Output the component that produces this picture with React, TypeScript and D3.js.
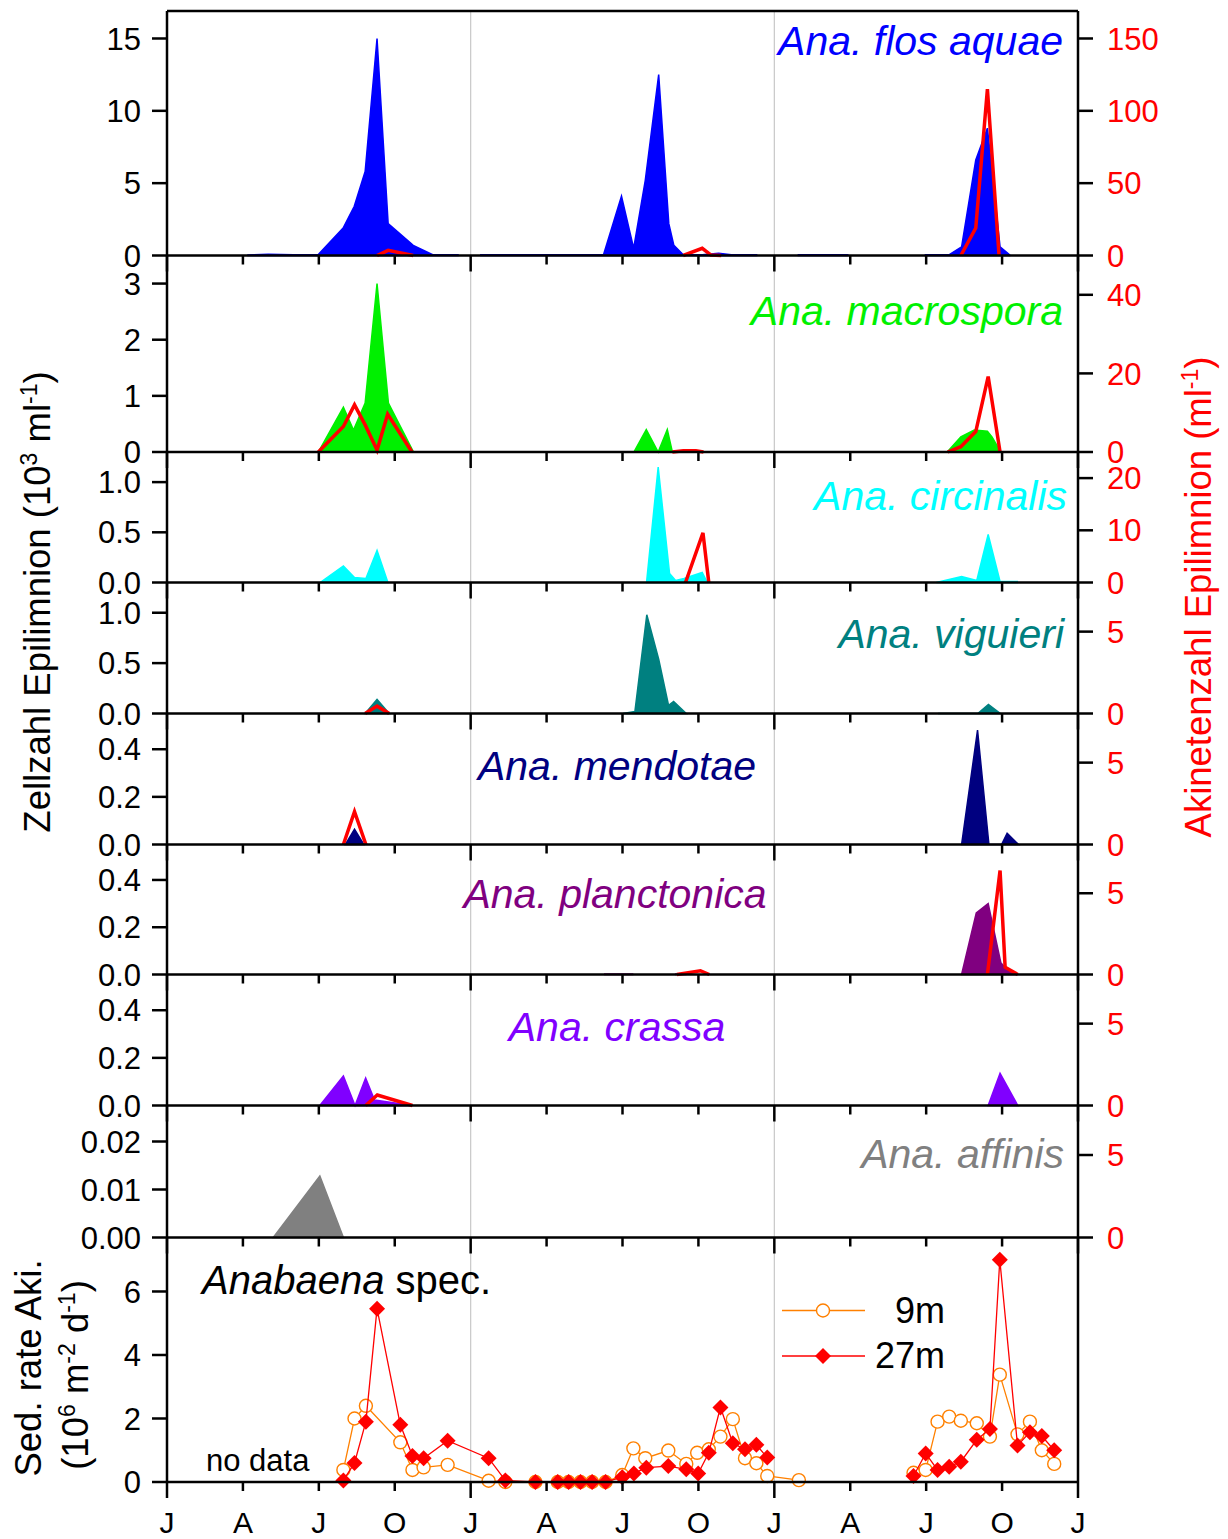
import React from "react";
import * as d3 from "d3";

type Pt = [number, number];

const FONT = "'Liberation Sans', Arial, Helvetica, sans-serif";

// Time axis: months since January of the first year (three years).
const monthTicks = d3.range(0, 37, 3);
const monthLabels = ["J", "A", "J", "O", "J", "A", "J", "O", "J", "A", "J", "O", "J"];

// ---- Cell counts (10^3 ml^-1) and akinete counts (ml^-1), one array per year segment ----
const flosAquaeCells: Pt[][] = [
  [[3.2, 0.03], [4.0, 0.08], [5.0, 0.05], [5.97, 0.05], [6.96, 1.9], [7.4, 3.4], [7.83, 5.8], [8.3, 15.0], [8.74, 2.2], [9.73, 0.7], [10.5, 0.05], [11.5, 0.05]],
  [[12.4, 0.05], [17.25, 0.05], [17.96, 4.1], [18.44, 0.5], [18.9, 5.2], [19.43, 12.5], [19.83, 2.2], [20.03, 0.7], [20.4, 0.05], [21.15, 0.05], [21.8, 0.15], [22.3, 0.05], [23.3, 0.05]],
  [[24.95, 0.05], [26.9, 0.05]],
  [[29.97, 0.05], [30.9, 0.05], [31.4, 0.6], [31.96, 6.6], [32.42, 8.8], [32.92, 0.6], [33.3, 0.05]],
];
const flosAquaeAkinetes: Pt[][] = [
  [[8.3, 0], [8.74, 3.6], [9.73, 0]],
  [[20.4, 0], [21.15, 5.0], [21.5, 0.3], [21.9, 0]],
  [[31.37, 0], [31.96, 19], [32.42, 115], [32.88, 0]],
];

const macrosporaCells: Pt[][] = [
  [[5.98, 0], [6.97, 0.8], [7.37, 0.39], [7.83, 0.87], [8.3, 3.0], [8.75, 0.87], [9.74, 0]],
  [[18.45, 0], [18.94, 0.4], [19.41, 0], [19.77, 0.4], [19.97, 0], [20.4, 0.01], [21.2, 0]],
  [[30.4, 0], [30.85, 0.01], [31.37, 0.27], [31.9, 0.39], [32.42, 0.37], [32.6, 0.27], [32.95, 0]],
];
const macrosporaAkinetes: Pt[][] = [
  [[5.98, 0], [6.97, 6.5], [7.41, 12], [7.83, 6.9], [8.3, 0.5], [8.72, 9.6], [9.68, 0]],
  [[19.97, 0], [20.4, 0.3], [20.9, 0.3], [21.2, 0]],
  [[30.85, 0], [31.37, 1.35], [31.96, 5.2], [32.45, 19.2], [32.92, 0]],
];

const circinalisCells: Pt[][] = [
  [[6.05, 0], [6.97, 0.165], [7.41, 0.05], [7.86, 0.04], [8.3, 0.32], [8.73, 0]],
  [[18.95, 0], [19.41, 1.15], [19.86, 0.09], [20.1, 0.02], [20.43, 0.04], [21.15, 0.1], [21.35, 0]],
  [[30.4, 0], [31.4, 0.06], [32.0, 0.02], [32.45, 0.48], [32.92, 0.01], [33.6, 0.01]],
];
const circinalisAkinetes: Pt[][] = [
  [[20.49, 0], [21.18, 9.5], [21.41, 0]],
];

const viguieriCells: Pt[][] = [
  [[7.83, 0], [8.3, 0.14], [8.78, 0]],
  [[18.02, 0], [18.49, 0.02], [18.96, 0.98], [19.43, 0.54], [19.82, 0.08], [20.02, 0.12], [20.52, 0]],
  [[30.47, 0], [32.04, 0], [32.46, 0.09], [32.93, 0]],
];
const viguieriAkinetes: Pt[][] = [
  [[7.83, 0], [8.3, 0.45], [8.78, 0]],
];

const mendotaeCells: Pt[][] = [
  [[7.05, 0], [7.41, 0.064], [7.78, 0]],
  [[31.4, 0], [32.03, 0.48], [32.48, 0], [32.98, 0], [33.2, 0.047], [33.65, 0]],
];
const mendotaeAkinetes: Pt[][] = [
  [[6.97, 0], [7.41, 2.0], [7.86, 0]],
];

const planctonicaCells: Pt[][] = [
  [[17.3, 0.002], [18.4, 0.002]],
  [[20.1, 0.002], [20.5, 0.002]],
  [[31.4, 0], [31.98, 0.26], [32.45, 0.3], [32.95, 0.05], [33.2, 0.02], [33.62, 0]],
];
const planctonicaAkinetes: Pt[][] = [
  [[20.15, 0], [21.08, 0.23], [21.43, 0]],
  [[32.42, 0], [32.92, 6.4], [33.12, 0.45], [33.62, 0]],
];

const crassaCells: Pt[][] = [
  [[6.04, 0], [6.97, 0.124], [7.43, 0], [7.85, 0.115], [8.2, 0.023], [9.7, 0]],
  [[32.45, 0], [32.92, 0.135], [33.62, 0]],
];
const crassaAkinetes: Pt[][] = [
  [[7.85, 0], [8.31, 0.64], [9.7, 0]],
];

const affinisCells: Pt[][] = [
  [[4.2, 0], [6.04, 0.0128], [6.97, 0]],
];

// ---- Akinete sedimentation rate (10^6 m^-2 d^-1), split where sampling paused ----
const sed9m: Pt[][] = [
  [
    [6.97, 0.38], [7.41, 2.0], [7.86, 2.4], [9.22, 1.25], [9.7, 0.38], [10.14, 0.46], [11.09, 0.54],
    [12.71, 0.04], [13.37, 0], [14.56, 0], [15.44, 0], [15.87, 0], [16.34, 0], [16.8, 0], [17.33, 0],
    [17.99, 0.22], [18.43, 1.06], [18.9, 0.75], [19.81, 0.99], [20.52, 0.57], [20.95, 0.92], [21.41, 1.03],
    [21.87, 1.43], [22.36, 1.98], [22.84, 0.75], [23.29, 0.59], [23.72, 0.19], [24.97, 0.06],
  ],
  [
    [29.5, 0.29], [29.98, 0.38], [30.45, 1.9], [30.91, 2.06], [31.37, 1.93], [32.0, 1.85], [32.52, 1.43],
    [32.91, 3.38], [33.61, 1.5], [34.1, 1.9], [34.57, 1.0], [35.06, 0.57],
  ],
];
const sed27m: Pt[][] = [
  [
    [6.97, 0.05], [7.41, 0.6], [7.86, 1.9], [8.3, 5.46], [9.22, 1.8], [9.7, 0.82], [10.14, 0.75], [11.09, 1.3],
    [12.71, 0.75], [13.37, 0.05], [14.56, 0], [15.44, 0], [15.87, 0], [16.34, 0], [16.8, 0], [17.33, 0],
    [17.99, 0.15], [18.45, 0.27], [18.94, 0.45], [19.81, 0.5], [20.52, 0.4], [20.99, 0.27], [21.41, 0.92],
    [21.87, 2.35], [22.36, 1.22], [22.84, 1.03], [23.29, 1.17], [23.72, 0.77],
  ],
  [
    [29.5, 0.19], [29.98, 0.9], [30.45, 0.38], [30.91, 0.48], [31.37, 0.64], [32.0, 1.33], [32.52, 1.67],
    [32.91, 7.0], [33.61, 1.15], [34.1, 1.57], [34.57, 1.45], [35.06, 1.0],
  ],
];

// ---- Layout ----
const X0 = 167;
const X1 = 1078;
const TOP = 11;
const AXIS_W = 2.5;
const x = d3.scaleLinear().domain([0, 36]).range([X0, X1]);

interface Panel {
  name: string;
  color: string;
  top: number;
  bottom: number;
  leftDomain: [number, number];
  leftTicks: number[];
  leftFmt: (v: number) => string;
  rightDomain: [number, number];
  rightTicks: number[];
  cells: Pt[][];
  akinetes: Pt[][];
  labelX: number;
  labelY: number;
  anchor: "start" | "middle" | "end";
}

const f0 = d3.format("d");
const f1 = d3.format(".1f");
const f2 = d3.format(".2f");

const panels: Panel[] = [
  { name: "Ana. flos aquae", color: "#0000ff", top: TOP, bottom: 255.5, leftDomain: [0, 16.9], leftTicks: [0, 5, 10, 15], leftFmt: f0, rightDomain: [0, 169], rightTicks: [0, 50, 100, 150], cells: flosAquaeCells, akinetes: flosAquaeAkinetes, labelX: 1063, labelY: 55, anchor: "end" },
  { name: "Ana. macrospora", color: "#00f000", top: 255.5, bottom: 452, leftDomain: [0, 3.5], leftTicks: [0, 1, 2, 3], leftFmt: f0, rightDomain: [0, 50], rightTicks: [0, 20, 40], cells: macrosporaCells, akinetes: macrosporaAkinetes, labelX: 1063, labelY: 325, anchor: "end" },
  { name: "Ana. circinalis", color: "#00ffff", top: 452, bottom: 582.5, leftDomain: [0, 1.3], leftTicks: [0, 0.5, 1.0], leftFmt: f1, rightDomain: [0, 25], rightTicks: [0, 10, 20], cells: circinalisCells, akinetes: circinalisAkinetes, labelX: 1067, labelY: 510, anchor: "end" },
  { name: "Ana. viguieri", color: "#008080", top: 582.5, bottom: 713.5, leftDomain: [0, 1.3], leftTicks: [0, 0.5, 1.0], leftFmt: f1, rightDomain: [0, 8], rightTicks: [0, 5], cells: viguieriCells, akinetes: viguieriAkinetes, labelX: 1064, labelY: 648, anchor: "end" },
  { name: "Ana. mendotae", color: "#000080", top: 713.5, bottom: 844.5, leftDomain: [0, 0.55], leftTicks: [0, 0.2, 0.4], leftFmt: f1, rightDomain: [0, 8], rightTicks: [0, 5], cells: mendotaeCells, akinetes: mendotaeAkinetes, labelX: 617, labelY: 780, anchor: "middle" },
  { name: "Ana. planctonica", color: "#800080", top: 844.5, bottom: 974.5, leftDomain: [0, 0.55], leftTicks: [0, 0.2, 0.4], leftFmt: f1, rightDomain: [0, 8], rightTicks: [0, 5], cells: planctonicaCells, akinetes: planctonicaAkinetes, labelX: 615, labelY: 908, anchor: "middle" },
  { name: "Ana. crassa", color: "#8000ff", top: 974.5, bottom: 1105.5, leftDomain: [0, 0.55], leftTicks: [0, 0.2, 0.4], leftFmt: f1, rightDomain: [0, 8], rightTicks: [0, 5], cells: crassaCells, akinetes: crassaAkinetes, labelX: 617, labelY: 1041, anchor: "middle" },
  { name: "Ana. affinis", color: "#808080", top: 1105.5, bottom: 1237.5, leftDomain: [0, 0.0275], leftTicks: [0, 0.01, 0.02], leftFmt: f2, rightDomain: [0, 8], rightTicks: [0, 5], cells: affinisCells, akinetes: [], labelX: 1064, labelY: 1168, anchor: "end" },
];

const SED_TOP = 1237.5;
const SED_BOTTOM = 1482;
const sedY = d3.scaleLinear().domain([0, 7.7]).range([SED_BOTTOM, SED_TOP]);
const sedTicks = [0, 2, 4, 6];

const TICK_FS = 31;
const LABEL_FS = 41;
const TITLE_FS = 36.5;
const MAJOR = 15;
const MINOR = 9;

function BottomTicks({ y }: { y: number }) {
  return (
    <g>
      {monthTicks.map((m) => (
        <line key={m} x1={x(m)} x2={x(m)} y1={y} y2={y + (m % 12 === 0 ? 16 : MINOR)} stroke="#000" strokeWidth={AXIS_W} />
      ))}
    </g>
  );
}

function PanelView({ p }: { p: Panel }) {
  const yL = d3.scaleLinear().domain(p.leftDomain).range([p.bottom, p.top]);
  const yR = d3.scaleLinear().domain(p.rightDomain).range([p.bottom, p.top]);
  const area = d3.area<Pt>().x((d) => x(d[0])).y0(p.bottom).y1((d) => yL(d[1]));
  const line = d3.line<Pt>().x((d) => x(d[0])).y((d) => yR(d[1]));
  return (
    <g>
      {p.cells.map((seg, i) => (
        <path key={"c" + i} d={area(seg) || ""} fill={p.color} stroke={p.color} strokeWidth={1.5} />
      ))}
      {p.akinetes.map((seg, i) => (
        <path key={"a" + i} d={line(seg) || ""} fill="none" stroke="#ff0000" strokeWidth={3.5} />
      ))}
      <text x={p.labelX} y={p.labelY} textAnchor={p.anchor} fill={p.color} fontSize={LABEL_FS} fontStyle="italic" fontFamily={FONT}>
        {p.name}
      </text>
      <line x1={X0} x2={X1} y1={p.bottom} y2={p.bottom} stroke="#000" strokeWidth={AXIS_W} />
      <BottomTicks y={p.bottom} />
      {p.leftTicks.map((t) => (
        <g key={"l" + t}>
          <line x1={X0 - MAJOR} x2={X0} y1={yL(t)} y2={yL(t)} stroke="#000" strokeWidth={AXIS_W} />
          <text x={X0 - 26} y={yL(t)} dy="0.36em" textAnchor="end" fontSize={TICK_FS} fontFamily={FONT} fill="#000">
            {p.leftFmt(t)}
          </text>
        </g>
      ))}
      {p.rightTicks.map((t) => (
        <g key={"r" + t}>
          <line x1={X1} x2={X1 + MAJOR} y1={yR(t)} y2={yR(t)} stroke="#000" strokeWidth={AXIS_W} />
          <text x={X1 + 29} y={yR(t)} dy="0.36em" textAnchor="start" fontSize={TICK_FS} fontFamily={FONT} fill="#ff0000">
            {t}
          </text>
        </g>
      ))}
    </g>
  );
}

function diamond(cx: number, cy: number, r: number) {
  return `M${cx},${cy - r}L${cx + r},${cy}L${cx},${cy + r}L${cx - r},${cy}Z`;
}

function SedPanel() {
  const line = d3.line<Pt>().x((d) => x(d[0])).y((d) => sedY(d[1]));
  return (
    <g>
      {sed9m.map((seg, i) => (
        <g key={"o" + i}>
          <path d={line(seg) || ""} fill="none" stroke="#ff8000" strokeWidth={1.3} />
          {seg.map((d, j) => (
            <circle key={j} cx={x(d[0])} cy={sedY(d[1])} r={6.5} fill="#fff" stroke="#ff8000" strokeWidth={1.4} />
          ))}
        </g>
      ))}
      {sed27m.map((seg, i) => (
        <g key={"d" + i}>
          <path d={line(seg) || ""} fill="none" stroke="#ff0000" strokeWidth={1.3} />
          {seg.map((d, j) => (
            <path key={j} d={diamond(x(d[0]), sedY(d[1]), 8)} fill="#ff0000" />
          ))}
        </g>
      ))}
      <text x={202} y={1294} fontSize={40} fontFamily={FONT} fill="#000">
        <tspan fontStyle="italic">Anabaena</tspan> spec.
      </text>
      <text x={206} y={1471} fontSize={31} fontFamily={FONT} fill="#000">no data</text>
      {/* legend */}
      <line x1={782} x2={865} y1={1310.5} y2={1310.5} stroke="#ff8000" strokeWidth={1.3} />
      <circle cx={823} cy={1310.5} r={6.5} fill="#fff" stroke="#ff8000" strokeWidth={1.4} />
      <text x={945} y={1322.5} textAnchor="end" fontSize={36} fontFamily={FONT} fill="#000">9m</text>
      <line x1={782} x2={865} y1={1356} y2={1356} stroke="#ff0000" strokeWidth={1.3} />
      <path d={diamond(823, 1356, 8)} fill="#ff0000" />
      <text x={945} y={1368} textAnchor="end" fontSize={36} fontFamily={FONT} fill="#000">27m</text>
      {/* axes */}
      <line x1={X0} x2={X1} y1={SED_BOTTOM} y2={SED_BOTTOM} stroke="#000" strokeWidth={AXIS_W} />
      <BottomTicks y={SED_BOTTOM} />
      {monthTicks.map((m, i) => (
        <text key={"xl" + m} x={x(m)} y={1533} textAnchor="middle" fontSize={30} fontFamily={FONT} fill="#000">
          {monthLabels[i]}
        </text>
      ))}
      {sedTicks.map((t) => (
        <g key={"s" + t}>
          <line x1={X0 - MAJOR} x2={X0} y1={sedY(t)} y2={sedY(t)} stroke="#000" strokeWidth={AXIS_W} />
          <text x={X0 - 26} y={sedY(t)} dy="0.36em" textAnchor="end" fontSize={TICK_FS} fontFamily={FONT} fill="#000">
            {t}
          </text>
        </g>
      ))}
      <text transform="translate(41,1368) rotate(-90)" textAnchor="middle" fontSize={TITLE_FS} fontFamily={FONT} fill="#000">
        Sed. rate Aki.
      </text>
      <text transform="translate(88,1375) rotate(-90)" textAnchor="middle" fontSize={TITLE_FS} fontFamily={FONT} fill="#000">
        (10<tspan dy={-13} fontSize={23}>6</tspan>
        <tspan dy={13}> m</tspan>
        <tspan dy={-13} fontSize={23}>-2</tspan>
        <tspan dy={13}> d</tspan>
        <tspan dy={-13} fontSize={23}>-1</tspan>
        <tspan dy={13}>)</tspan>
      </text>
    </g>
  );
}

export default function App() {
  return (
    <svg width={1228} height={1539} viewBox="0 0 1228 1539" style={{ display: "block", position: "absolute", left: 0, top: 0, background: "#fff" }}>
      <rect x={0} y={0} width={1228} height={1539} fill="#fff" />
      {/* year separators */}
      {[12, 24].map((m) => (
        <line key={m} x1={x(m)} x2={x(m)} y1={TOP} y2={SED_BOTTOM} stroke="#c8c8c8" strokeWidth={1.2} />
      ))}
      {panels.map((p) => (
        <PanelView key={p.name} p={p} />
      ))}
      <SedPanel />
      {/* frame */}
      <line x1={X0} x2={X0} y1={TOP} y2={SED_BOTTOM} stroke="#000" strokeWidth={AXIS_W} />
      <line x1={X1} x2={X1} y1={TOP} y2={SED_BOTTOM} stroke="#000" strokeWidth={AXIS_W} />
      <line x1={X0} x2={X1} y1={TOP} y2={TOP} stroke="#000" strokeWidth={AXIS_W} />
      {/* axis titles */}
      <text transform="translate(50,602) rotate(-90)" textAnchor="middle" fontSize={TITLE_FS} fontFamily={FONT} fill="#000">
        Zellzahl Epilimnion (10<tspan dy={-13} fontSize={23}>3</tspan>
        <tspan dy={13}> ml</tspan>
        <tspan dy={-13} fontSize={23}>-1</tspan>
        <tspan dy={13}>)</tspan>
      </text>
      <text transform="translate(1211,597) rotate(-90)" textAnchor="middle" fontSize={TITLE_FS} fontFamily={FONT} fill="#ff0000">
        Akinetenzahl Epilimnion (ml<tspan dy={-13} fontSize={23}>-1</tspan>
        <tspan dy={13}>)</tspan>
      </text>
    </svg>
  );
}
